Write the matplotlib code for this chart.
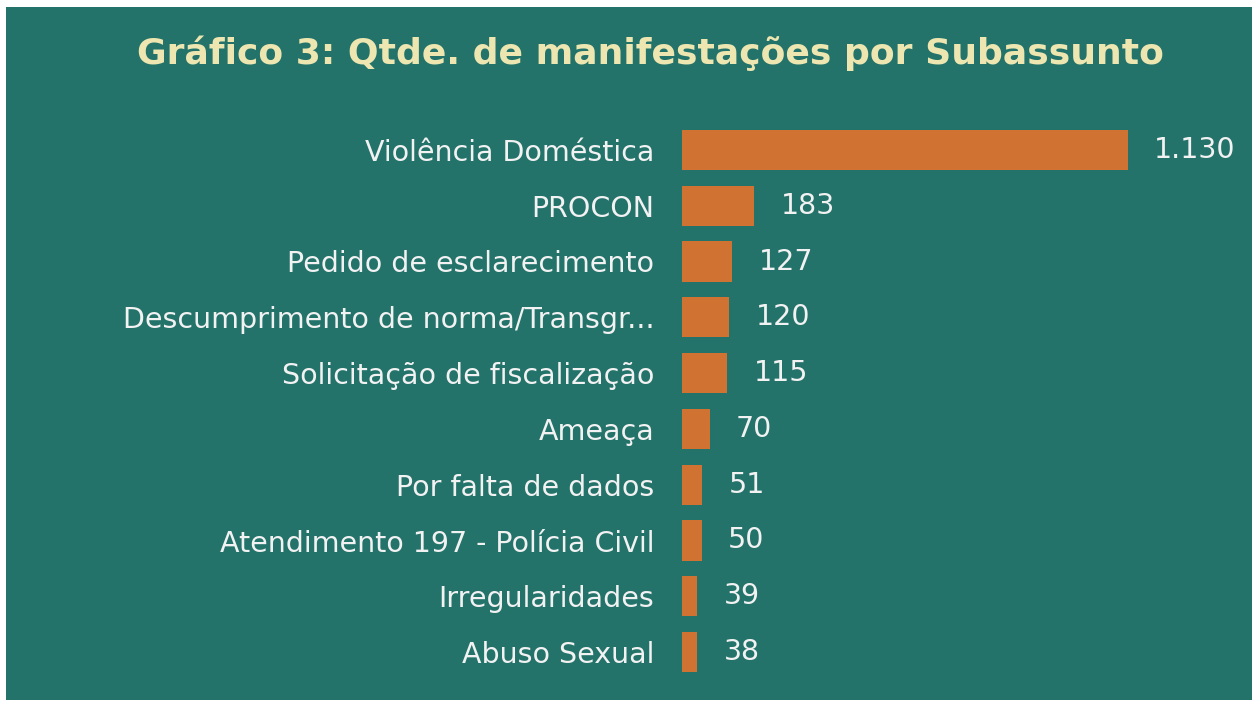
import matplotlib
matplotlib.use("Agg")
import matplotlib.pyplot as plt

# dados do grafico
categorias = ["Violência Doméstica", "PROCON", "Pedido de esclarecimento",
              "Descumprimento de norma/Transgr...", "Solicitação de fiscalização",
              "Ameaça", "Por falta de dados", "Atendimento 197 - Polícia Civil",
              "Irregularidades", "Abuso Sexual"]
valores = [1130, 183, 127, 120, 115, 70, 51, 50, 39, 38]
rotulos = ["1.130", "183", "127", "120", "115", "70", "51", "50", "39", "38"]

fundo = "#23736B"
laranja = "#D07332"
texto = "#F2F2F2"

plt.rcParams['font.family'] = ['DejaVu Sans']

fig = plt.figure(figsize=(12.52, 7.02), dpi=100)
fig.patch.set_facecolor("white")
# painel verde
bg = fig.add_axes([6/1252, 2/702, 1 - 6/1252, 1 - 9/702], zorder=-1)
bg.set_facecolor(fundo)
bg.set_xticks([])
bg.set_yticks([])
for s in bg.spines.values():
    s.set_visible(False)

ax = fig.add_axes([682/1252, 22/702, 513/1252, 558/702])
ax.set_facecolor("none")
y = list(range(len(categorias)))
ax.barh(y, valores, height=0.717, color=laranja)
ax.set_xlim(0, 1300)
ax.set_ylim(len(categorias) - 0.5, -0.5)
ax.set_yticks(y)
ax.set_yticklabels(categorias, color=texto, fontsize=20.5)
ax.tick_params(axis="y", length=0, pad=20)
ax.set_xticks([])
for s in ax.spines.values():
    s.set_visible(False)

for i, (v, r) in enumerate(zip(valores, rotulos)):
    ax.annotate(r, (v, i), xytext=(19, 0), textcoords="offset points",
                va="center", ha="left", color=texto, fontsize=20.5)

fig.text(650/1252, 1 - 53/702, "Gráfico 3: Qtde. de manifestações por Subassunto",
         ha="center", va="center", color="#EDE6B0", fontsize=26, fontweight="bold")

fig.savefig("out.png", dpi=100, facecolor=fig.get_facecolor())
